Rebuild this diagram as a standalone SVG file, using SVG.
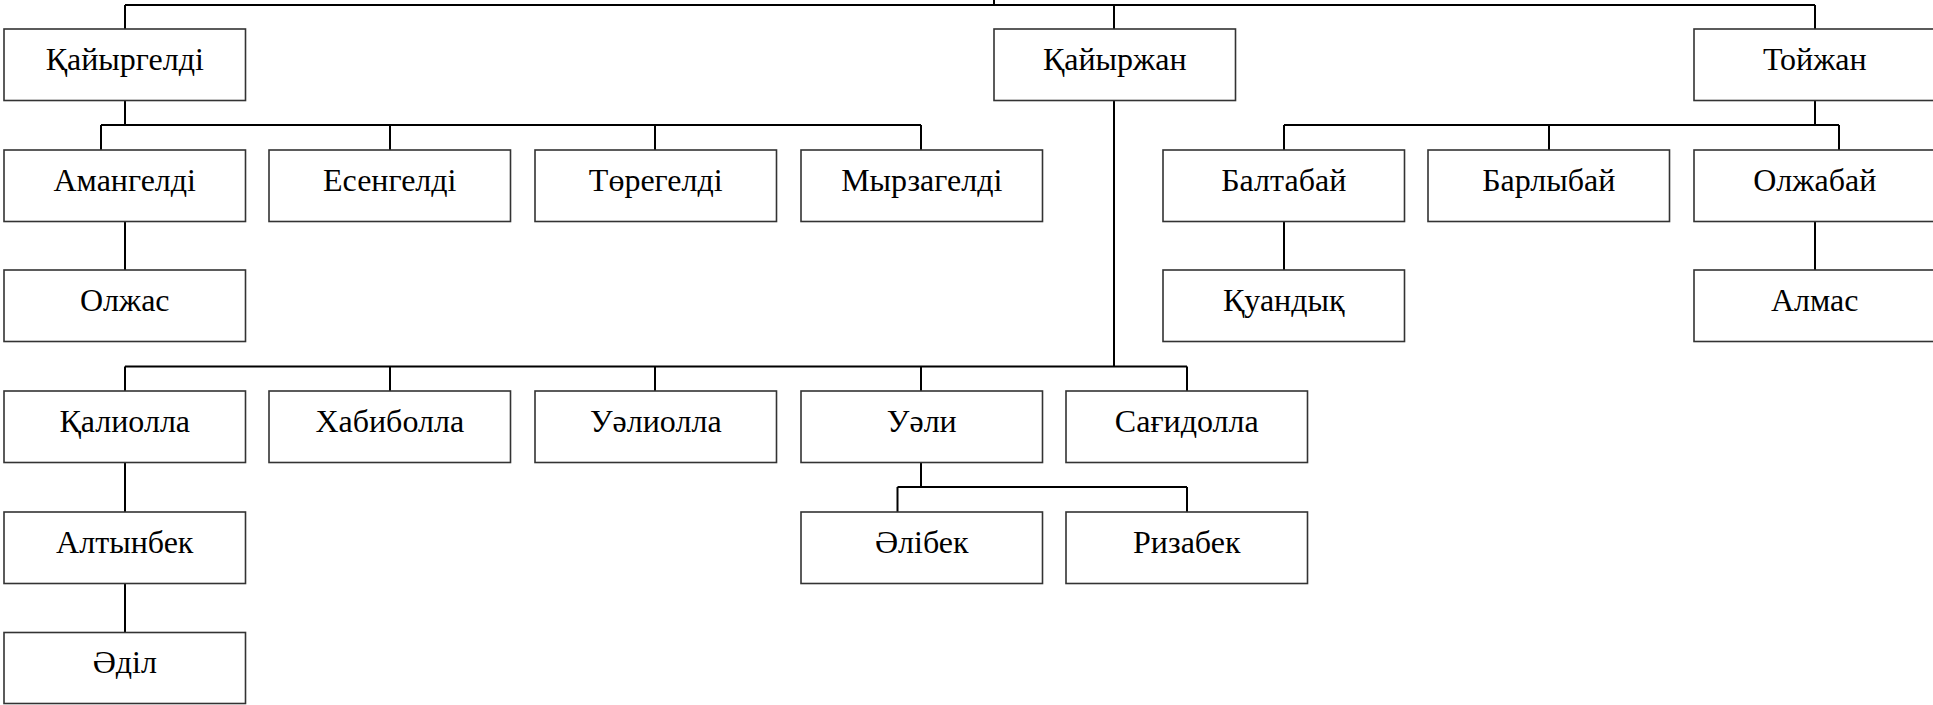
<svg xmlns="http://www.w3.org/2000/svg" width="1933" height="705" viewBox="0 0 1933 705">
<style>
.box rect{fill:#fff;stroke:#333;stroke-width:1.6}
.box text{font-family:'Times New Roman','Liberation Serif',serif;font-size:32px;fill:#000;text-anchor:middle}
.conn path{fill:none;stroke:#000;stroke-width:2}
</style>
<rect width="1933" height="705" fill="#fff"/>
<g class="conn">
<path d="M994 0V5"/>
<path d="M125 5H1815"/>
<path d="M125 5V29M1114 5V29M1815 5V29"/>
<path d="M125 101V125M101 125H921M101 125V150M390 125V150M655 125V150M921 125V150"/>
<path d="M125 221V270"/>
<path d="M1815 101V125M1284 125H1839M1284 125V150M1549 125V150M1839 125V150"/>
<path d="M1284 221V270M1815 221V270"/>
<path d="M1114 101V366.5M125 366.5H1187M125 366.5V391M390 366.5V391M655 366.5V391M921 366.5V391M1187 366.5V391"/>
<path d="M125 463V512M125 584V632.5"/>
<path d="M921 463V487M897.5 487H1187M897.5 487V512M1187 487V512"/>
</g>
<g id="n-kaiyrgeldi" class="box"><rect x="4" y="29" width="241.5" height="71.5"/><text x="124.75" y="70">Қайыргелді</text></g>
<g id="n-kaiyrzhan" class="box"><rect x="994" y="29" width="241.5" height="71.5"/><text x="1114.75" y="70">Қайыржан</text></g>
<g id="n-toizhan" class="box"><rect x="1694" y="29" width="241.5" height="71.5"/><text x="1814.75" y="70">Тойжан</text></g>
<g id="n-amangeldi" class="box"><rect x="4" y="150" width="241.5" height="71.5"/><text x="124.75" y="191">Амангелді</text></g>
<g id="n-esengeldi" class="box"><rect x="269" y="150" width="241.5" height="71.5"/><text x="389.75" y="191">Есенгелді</text></g>
<g id="n-toregeldi" class="box"><rect x="535" y="150" width="241.5" height="71.5"/><text x="655.75" y="191">Төрегелді</text></g>
<g id="n-myrzageldi" class="box"><rect x="801" y="150" width="241.5" height="71.5"/><text x="921.75" y="191">Мырзагелді</text></g>
<g id="n-baltabai" class="box"><rect x="1163" y="150" width="241.5" height="71.5"/><text x="1283.75" y="191">Балтабай</text></g>
<g id="n-barlybai" class="box"><rect x="1428" y="150" width="241.5" height="71.5"/><text x="1548.75" y="191">Барлыбай</text></g>
<g id="n-olzhabai" class="box"><rect x="1694" y="150" width="241.5" height="71.5"/><text x="1814.75" y="191">Олжабай</text></g>
<g id="n-olzhas" class="box"><rect x="4" y="270" width="241.5" height="71.5"/><text x="124.75" y="311">Олжас</text></g>
<g id="n-kuandyk" class="box"><rect x="1163" y="270" width="241.5" height="71.5"/><text x="1283.75" y="311">Қуандық</text></g>
<g id="n-almas" class="box"><rect x="1694" y="270" width="241.5" height="71.5"/><text x="1814.75" y="311">Алмас</text></g>
<g id="n-kaliolla" class="box"><rect x="4" y="391" width="241.5" height="71.5"/><text x="124.75" y="432">Қалиолла</text></g>
<g id="n-khabibolla" class="box"><rect x="269" y="391" width="241.5" height="71.5"/><text x="389.75" y="432">Хабиболла</text></g>
<g id="n-ualiolla" class="box"><rect x="535" y="391" width="241.5" height="71.5"/><text x="655.75" y="432">Уәлиолла</text></g>
<g id="n-uali" class="box"><rect x="801" y="391" width="241.5" height="71.5"/><text x="921.75" y="432">Уәли</text></g>
<g id="n-sagidolla" class="box"><rect x="1066" y="391" width="241.5" height="71.5"/><text x="1186.75" y="432">Сағидолла</text></g>
<g id="n-altynbek" class="box"><rect x="4" y="512" width="241.5" height="71.5"/><text x="124.75" y="553">Алтынбек</text></g>
<g id="n-alibek" class="box"><rect x="801" y="512" width="241.5" height="71.5"/><text x="921.75" y="553">Әлібек</text></g>
<g id="n-rizabek" class="box"><rect x="1066" y="512" width="241.5" height="71.5"/><text x="1186.75" y="553">Ризабек</text></g>
<g id="n-adil" class="box"><rect x="4" y="632.5" width="241.5" height="71"/><text x="124.75" y="673">Әділ</text></g>
</svg>
